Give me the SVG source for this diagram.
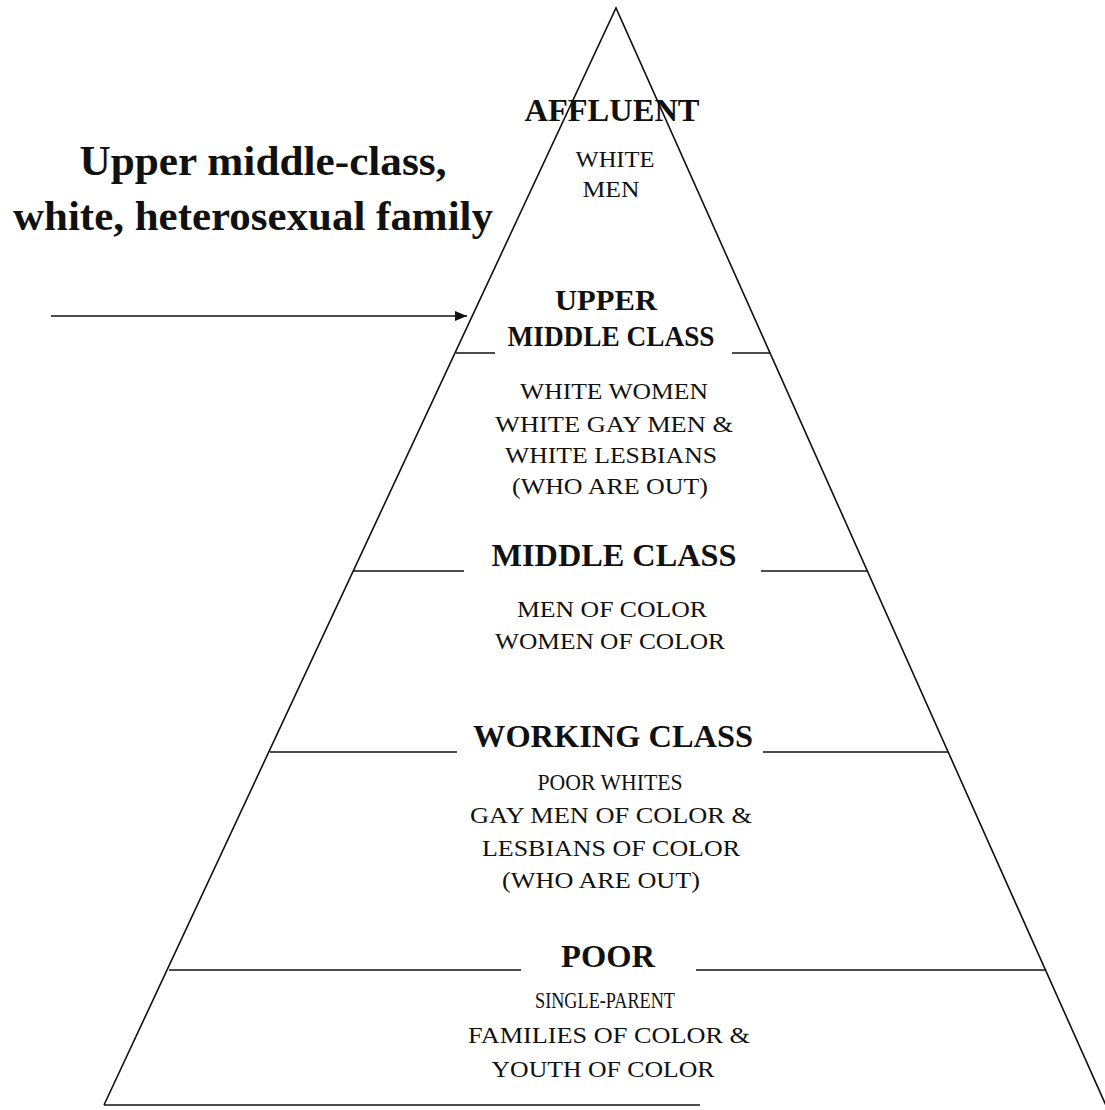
<svg xmlns="http://www.w3.org/2000/svg" width="1105" height="1110" viewBox="0 0 1105 1110">
  <style>
    .edge { stroke: #111; stroke-width: 1.6; fill: none; }
    .tier { stroke: #111; stroke-width: 1.6; }
    text { font-family: "Liberation Serif", Tinos, "Times New Roman", Times, serif; fill: #111; text-anchor: middle; }
    .head { font-weight: bold; }
    .body { font-size: 24px; }
  </style>
  <defs>
    <marker id="arrowhead" viewBox="0 0 12 10" refX="12" refY="5" markerWidth="12" markerHeight="10" markerUnits="userSpaceOnUse" orient="auto">
      <path d="M0,0 L12,5 L0,10 Z" fill="#111"/>
    </marker>
  </defs>
  <rect width="1105" height="1110" fill="#fff"/>

  <!-- pyramid outline -->
  <g id="pyramid">
    <polyline class="edge" points="104,1105 616,8 1108,1110"/>
    <line class="tier" x1="104" y1="1105" x2="700" y2="1105"/>
  </g>

  <!-- tier dividers, broken where the heading sits -->
  <g id="connectors">
    <line class="tier" x1="456" y1="353" x2="495" y2="353"/>
    <line class="tier" x1="732" y1="353" x2="770" y2="353"/>
    <line class="tier" x1="354" y1="571" x2="464" y2="571"/>
    <line class="tier" x1="761" y1="571" x2="867" y2="571"/>
    <line class="tier" x1="270" y1="752" x2="457" y2="752"/>
    <line class="tier" x1="763" y1="752" x2="948" y2="752"/>
    <line class="tier" x1="169" y1="970" x2="521" y2="970"/>
    <line class="tier" x1="696" y1="970" x2="1045" y2="970"/>
    <line class="tier" x1="51" y1="316" x2="467" y2="316" marker-end="url(#arrowhead)"/>
  </g>

  <g id="family-label">
    <text class="head" x="263" y="175" font-size="43" textLength="367" lengthAdjust="spacingAndGlyphs">Upper middle-class,</text>
    <text class="head" x="253" y="230" font-size="43" textLength="480" lengthAdjust="spacingAndGlyphs">white, heterosexual family</text>
  </g>

  <g id="affluent">
    <text class="head" x="612" y="121" font-size="32" textLength="175" lengthAdjust="spacingAndGlyphs">AFFLUENT</text>
    <text class="body" x="615" y="167" font-size="23" textLength="79" lengthAdjust="spacingAndGlyphs">WHITE</text>
    <text class="body" x="611" y="197" font-size="23" textLength="57" lengthAdjust="spacingAndGlyphs">MEN</text>
  </g>

  <g id="upper-middle-class">
    <text class="head" x="606" y="310" font-size="29" textLength="102" lengthAdjust="spacingAndGlyphs">UPPER</text>
    <text class="head" x="611" y="346" font-size="29" textLength="207" lengthAdjust="spacingAndGlyphs">MIDDLE CLASS</text>
    <text class="body" x="614" y="399" textLength="188" lengthAdjust="spacingAndGlyphs">WHITE WOMEN</text>
    <text class="body" x="614" y="432" textLength="238" lengthAdjust="spacingAndGlyphs">WHITE GAY MEN &amp;</text>
    <text class="body" x="611" y="463" textLength="212" lengthAdjust="spacingAndGlyphs">WHITE LESBIANS</text>
    <text class="body" x="610" y="494" textLength="196" lengthAdjust="spacingAndGlyphs">(WHO ARE OUT)</text>
  </g>

  <g id="middle-class">
    <text class="head" x="614" y="566" font-size="32.5" textLength="245" lengthAdjust="spacingAndGlyphs">MIDDLE CLASS</text>
    <text class="body" x="612" y="617" textLength="190" lengthAdjust="spacingAndGlyphs">MEN OF COLOR</text>
    <text class="body" x="610" y="649" textLength="230" lengthAdjust="spacingAndGlyphs">WOMEN OF COLOR</text>
  </g>

  <g id="working-class">
    <text class="head" x="613" y="747" font-size="32.5" textLength="280" lengthAdjust="spacingAndGlyphs">WORKING CLASS</text>
    <text class="body" x="610" y="790" textLength="145" lengthAdjust="spacingAndGlyphs">POOR WHITES</text>
    <text class="body" x="611" y="823" textLength="282" lengthAdjust="spacingAndGlyphs">GAY MEN OF COLOR &amp;</text>
    <text class="body" x="611" y="856" textLength="258" lengthAdjust="spacingAndGlyphs">LESBIANS OF COLOR</text>
    <text class="body" x="601" y="888" textLength="198" lengthAdjust="spacingAndGlyphs">(WHO ARE OUT)</text>
  </g>

  <g id="poor">
    <text class="head" x="608" y="967" font-size="32.5" textLength="94" lengthAdjust="spacingAndGlyphs">POOR</text>
    <text class="body" x="605" y="1008" textLength="140" lengthAdjust="spacingAndGlyphs">SINGLE-PARENT</text>
    <text class="body" x="609" y="1043" textLength="282" lengthAdjust="spacingAndGlyphs">FAMILIES OF COLOR &amp;</text>
    <text class="body" x="603" y="1077" textLength="223" lengthAdjust="spacingAndGlyphs">YOUTH OF COLOR</text>
  </g>
</svg>
